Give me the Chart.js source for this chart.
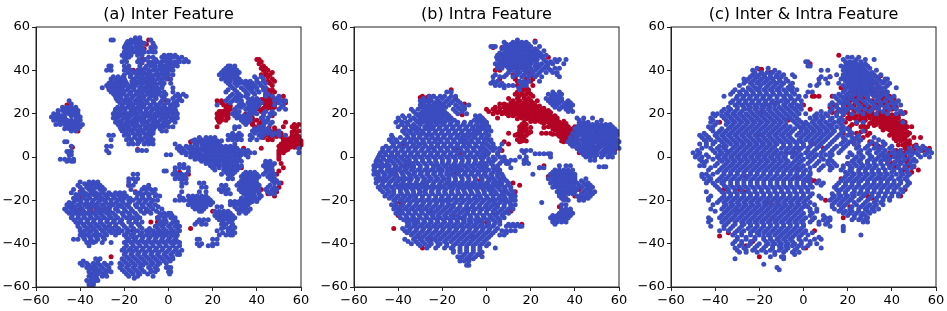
<!DOCTYPE html>
<html>
<head>
<meta charset="utf-8">
<script src="https://cdn.jsdelivr.net/npm/chart.js@4/dist/chart.umd.min.js"></script>
<style>
  html, body { margin: 0; padding: 0; background: #fff; }
  body { position: relative; width: 947px; height: 311px; overflow: hidden; }
  .panel { position: absolute; top: 0; width: 315px; height: 311px; }
</style>
</head>
<body>
<div class="panel" style="left:0"><canvas id="chartA"></canvas></div>
<div class="panel" style="left:317.5px"><canvas id="chartB"></canvas></div>
<div class="panel" style="left:635px"><canvas id="chartC"></canvas></div>
<script>
const titles = ['(a) Inter Feature', '(b) Intra Feature', '(c) Inter & Intra Feature'];
const tickValues = [-60, -40, -20, 0, 20, 40, 60];

// points, one row per y: [y, x, x, x ...]
const blueA = [
  [55,-15,-13],[54,-26,-25,-17,-14,-8],[52.5,-19,-17,-15,-13,-11,-7],[50.5,-20,-18,-16.5,-15,-13,-12,-8,-6],[48.5,-20,-18,-16,-14.5,-13,-11,-9,-7,-6],
  [47,-21,-19,-17,-14,-12,-2,0,1,3],[46,-20,-18,-9,-7,-3,-1,2,4,6],[44,-21,-19,-14,-12,-9,-7,-5,-3,-1,1,3,5,7,9],[42,-27,-26,-20,-18,-13,-10,-8,-6,-4,-2,0,2,4],
  [40,-28,-26,-20,-17,-14,-12,-9,-7,-5,-3,-1,1,2],[38,-20,-17,-14,-12,-10,-8,-6,-4,-2,0,2],[36,-26,-24,-22,-20,-16,-13,-11,-9,-7,-5,-3,-1,1],
  [34,-27,-25,-23,-21,-19,-16,-14,-12,-10,-8,-6,-4,-2,1],[32,-30,-27,-25,-23,-21,-18,-16,-13,-11,-9,-7,-5,-3,2],[30,-26,-24,-22,-20,-17,-14,-12,-10,-8,-6,-4,-2,2],
  [28,-24,-22,-19,-16,-13,-11,-8,-6,-3,-2,3,5,8],[26,-23,-20,-18,-15,-13,-10,-7,-3,0,4,6],[24,-21,-18,-16,-13,-11,-8,-5,-2,1,4],[22,-24,-22,-20,-17,-15,-13,-10,-7,-5,-3,-1,1,3],
  [20,-25,-23,-21,-18,-16,-14,-11,-9,-6,-4,-2,0,2,4],[18,-25,-23,-20,-18,-15,-13,-11,-8,-6,-3,-1,1,3,4],[16,-24,-22,-19,-17,-15,-12,-10,-7,-5,-2,0,3],[14,-22,-20,-18,-15,-13,-10,-8,-6,-4,-2,0,2],
  [12,-21,-19,-17,-14,-12,-9,-7,-3,-1],[10,-27,-25,-20,-18,-15,-13,-10,-8],[8,-26,-19,-17,-14,-12,-9,-7],[6,-18,-16,-14,-11,-9,-7],[5,-28,-26],[3,-28,-14,-12,-10],[2,-27],
  // left islands
  [26,-45],[24.5,-44],[23,-48,-46,-44,-42],[21.5,-50,-48,-46,-44,-42,-41],[20,-52,-50,-47,-45,-43,-41],[18.5,-53,-51,-49,-47,-42,-40],[17,-52,-50,-48,-46,-44,-42,-40],[15,-51,-49,-47,-45,-43,-41,-39],[13,-47,-45,-43,-41],[12,-44,-42],
  [7,-47,-46],[5,-44],[2.5,-46,-45,-44],[1,-45,-44],[-1,-49,-47,-45,-43],[-2,-46,-44,-43],
  // lower left
  [-8,-16,-14],[-10,-18,-16,-14],[-11.5,-40,-36,-34,-32,-18,-15],[-13,-41,-37,-35,-33,-31,-18,-16,-9],[-15,-43,-39,-36,-34,-31,-29,-17,-12,-10,-8,-6],
  [-16.5,-44,-40,-38,-35,-33,-30,-27,-24,-22,-20,-15,-13,-10,-7],[-18,-41,-38,-36,-33,-31,-28,-25,-22,-19,-12,-9,-6,-4],[-20,-42,-40,-37,-34,-31,-29,-26,-23,-21,-18,-16,-13,-10,-7,-5],
  [-22,-46,-44,-41,-38,-36,-33,-30,-27,-25,-22,-19,-15,-12,-9,-6],[-24,-47,-44,-42,-39,-36,-33,-31,-28,-24,-20,-17,-13,-10,-7,-3],[-26,-45,-42,-40,-37,-34,-31,-28,-25,-21,-18,-15,-11,-8,-4,-2,0,1],
  [-28,-44,-41,-38,-35,-32,-29,-26,-23,-19,-16,-13,-5,-2,1,3],[-30,-42,-40,-37,-34,-31,-28,-25,-22,-18,-15,-12,-3,-1,2,4],[-32,-41,-38,-35,-32,-29,-27,-24,-20,-17,-13,-6,-3,0,3,5],
  [-34,-40,-38,-35,-33,-30,-27,-24,-21,-18,-14,-10,-7,-4,-1,2,5],[-36,-40,-37,-34,-31,-28,-24,-20,-17,-13,-10,-7,-4,-1,2,4],[-38,-43,-41,-38,-35,-32,-29,-18,-15,-12,-9,-6,-3,0,3],
  [-39.5,-37,-34,-30,-26,-20,-17,-14,-11,-8,-5,-2,1,3,5],[-41,-36,-19,-16,-13,-10,-7,-4,-1,2,5],[-43,-21,-18,-15,-12,-9,-6,-3,0,3,6],[-45,-20,-17,-14,-11,-8,-5,-2,1,4,5],
  [-47,-33,-31,-21,-18,-15,-12,-9,-6,-3,0,2],[-49,-40,-37,-34,-32,-29,-26,-22,-19,-16,-13,-10,-7,-4,-1],[-51,-37,-35,-33,-30,-27,-22,-19,-16,-13,-9,-6,-1,0,1],[-53,-36,-33,-31,-28,-26,-20,-17,-14,-11,-8,-6,0,1],
  [-55,-36,-33,-30,-28,-18,-14,-7],[-57,-37,-35,-33,-32],[-59,-36,-35,-34],
  // small clusters in the middle
  [1,-1,1],[-3.5,5,7],[-5,3,5,7,9],[-6.5,-2,-1,3,9],[-8,2,4,6,8],[-10,3,5,6,8],[-12,6,8],[-13.5,6],
  [-12,14,16],[-14,15,17],[-16,6,14,17],[-18,5,9,11,13,15,17],[-20,3,5,7,9,11,13,15,17,19],[-22,9,11,13,15,17,19],[-24,12,14,16],[-25,14,15],
  [-23,22,24],[-25,21,23,25,27],[-27,21,23,25,27,29],[-29,14,16,18,23,25,27,29],[-31,12,15,17,24,26,29],[-32.5,25,28,30],[-34,22,27,29],[-36,23,26,28,29],[-38,13,14,20,22],[-40,13,15,20,22],[-41,14,18,20],
  // upper right
  [42,27,28,30],[40,25,27,29,31],[38,23,25,27,29,31],[36,24,26,28,30,32,40,43],[34,27,30,32,34,36,38,41,44],[32,29,33,36,38,40,44],[30,26,31,35,38,41,44],[28,28,31,33,35,44,47,50],[26,26,29,31,33,37,39,41,48,51,53],[24,22,32,34,37,39,41,48,52],[22,30,35,37,39,50,53],[20,29,31,36,38,40,43,46,48],[18,31,33,35,37,42,45],[16,34,36,44,47],[14,30,32,41,43],[12,38,40,42,44,46,50],[10,27,29,31,33,37,41,43,47,50,53],[8,27,29,31,33,37,40],
  // band down to the right
  [9,14,17,19,21],[7.5,11,14,16,18,20,22,24],[6,3,12,15,17,19,21,30],[4,4,6,9,11,13,15,17,19,21,23,25,27,29,31,59],[2,6,8,10,12,14,17,19,21,23,25,27,29,31,33,35,37,39,59],[0,10,12,14,16,18,20,22,24,26,28,30,32,36],
  [-2,15,17,19,21,23,25,27,29,31,33,44,46],[-4,19,21,23,25,27,29,31,33,43,45,47],[-6,21,25,27,29,31,45,47],[-8,24,27,29,34,36,38,40,43,46,48],[-10,27,29,34,36,38,40,46,48],[-12,32,34,36,38,40,48,50],[-13,24,26,31,33,35,37,39,41,46],[-15,23,25,27,32,34,36,38,40,44,47,49],[-17,26,28,34,36,38,41,46,48],[-19,33,35,37,39,41],[-20.5,28,30,32,34,36,38,40],[-22,28,30,32,34,36],[-24,31,33,35,37],[-26,32,35]
];
const blueA2 = [
  [53.3,-18.5,-15.8,-14.2,-12.6],[51.4,-19.6,-17.7,-14.3,-12.5,-6.5],[49.4,-19.2,-16.6,-13.6,-11.5,-7.7],[45,-19.5,-13.3,-10.8,-5.8,-1.7,0.6,4.7,7.8],[43,-12.7,-8.5,-6.5,-3.6,-0.5,1.5,3.6],[41,-26.8,-18.6,-12.8,-10.6,-6.2,-3.8,-1.6,0.6],[39,-18.3,-15.4,-13,-10.9,-8.6,-5.2,-2.8,-0.5],[37,-25,-22.8,-20.6,-17.3,-14.5,-12.1,-9.7,-7.6,-4.4,-1.8],[35,-26,-23.8,-21.6,-19.5,-16.6,-14.8,-12.9,-10.8,-8.7,-6.6,-3.1],[33,-28,-25.8,-23.7,-21.8,-19.6,-17.2,-14.9,-12.4,-9.8,-7.8,-5.8,-2.8],[31,-26.9,-24.7,-22.6,-20.8,-18.6,-15.5,-13,-10.7,-8.7,-6.6,-4.8],[29,-24.8,-22.6,-20.5,-17.8,-14.8,-12.2,-9.6,-7.2,-4.7,-1.2,4.2,6.7],[27,-23.7,-21.4,-19,-16.8,-14,-11.6,-8.7,-5.6,-2,2,5],[25,-22,-19.6,-17,-14.6,-12,-9.6,-6.5,-3.7,-0.6,2.4],[23,-23,-20.7,-18.6,-16.2,-14,-11.6,-8.6,-6,-3.9,-1.7,0.6,2.8],[21,-24.2,-22,-19.6,-17,-15,-12.6,-10.2,-7.8,-5,-2.9,-0.8,1.4,3.3],[19,-24,-21.8,-19.3,-16.9,-14.4,-12,-9.8,-7,-4.8,-2.4,-0.2,2.2],[17,-23.5,-21,-18.5,-16,-13.6,-11.2,-8.8,-6.4,-3.9,-1.2,1.4],[15,-22.8,-20.8,-18.8,-16.4,-14.2,-11.5,-9,-6.8,-4.9,-2.8,-0.8],[13,-21.6,-19.6,-17.6,-15.6,-13,-10.8,-8.6,-6.6,-3.8],[11,-19.2,-16,-13.8,-11,-9,-7],[9,-18,-15.4,-12.8,-10.6,-8.2],[7,-16.6,-13.2,-10,-8],
  [22,-47,-45,-43],[19,-51,-48.5,-44,-41.5],[16,-49,-47,-45,-43,-41],[14,-46,-44,-42,-40],
  [-12.3,-38,-35.6,-33],[-14,-40,-37,-35,-32.6,-30,-11,-9],[-17.3,-42,-39,-36.8,-34,-31.5,-28.7,-26,-23,-21,-14,-11.6,-8.7,-5.8],[-19,-43,-41,-38.6,-35.6,-32.7,-30,-27.5,-24.4,-22,-20,-17.4,-14.4,-11.5,-8.6],[-21,-45,-43,-39.6,-37,-34.6,-31.8,-28.4,-26,-23.6,-20.6,-17.6,-13.6,-10.8,-7.8],[-23,-45.4,-42.6,-40,-37,-34.7,-32,-29,-26.4,-23,-21,-18,-14.4,-11.4,-8,-4.7],[-25,-46,-43.4,-41,-38.4,-35.5,-32.4,-29.7,-26.5,-22.8,-19.4,-16.2,-12.4,-9,-5.4],[-27,-43.6,-40.8,-38.4,-35.6,-32.8,-30,-26.8,-24,-20.4,-17.4,-14.2,-3.4,-0.8,1.6],[-29,-42.8,-39.6,-36.4,-33.6,-30.6,-27.6,-24.4,-21.2,-17.6,-14.4,-4.2,-1.4,2.8],[-31,-41,-38.6,-35.8,-33,-30,-26.6,-23.8,-20.8,-16.8,-13.7,-4.4,-2,1,3.8],[-33,-40,-36.6,-33.8,-31,-28.5,-25.6,-22.6,-19,-15.8,-12,-8.6,-5,-2.2,1,4],[-35,-38.6,-36,-32.5,-29,-25.8,-22.4,-18.8,-15.6,-12,-8.8,-5.6,-2.6,0.5,3.4],[-37,-38.5,-35.6,-32.6,-29.6,-19,-16,-14.6,-11.6,-8.4,-5.5,-2.4,0.8,3.4],[-39,-35.6,-33,-19,-15.8,-12.8,-9.6,-6.5,-3.6,-0.8,2,4],[-42,-20,-17,-14.4,-11.4,-8.4,-5.4,-2.4,0.6,3.6],[-44,-19.4,-16.4,-13.4,-10.4,-7.4,-4.4,-1,2,4.6],[-46,-19,-16,-13,-10,-7,-4,-1,1.8],[-48,-38.6,-32,-20,-17,-14,-11,-8,-5,-2,0.8],[-50,-39,-36,-33.6,-31,-28,-21,-18,-15,-11.6,-8,-5],[-52,-36,-34,-31.6,-29,-27,-21,-18,-15,-12,-8,-5,0.6],[-54,-34.6,-32,-29.6,-19,-16,-13,-9.4,0.5],[-56,-34.8,-32.5,-15.5],[-58,-36,-34],
  [-9,3.4,5.4,7.4],[-19,6.6,10,12,14,16,18],[-21,10,12,14,16,18,20],[-23,11,13,15,17],[-26,22,24,26,28],[-28,22,24,26,28,30],[-30,13,15,24.5,27.5],[-33,24,27],[-35,24.5,27.5,30],
  [41,26,28,30],[39,24,26,28,30,32],[37,25,27,29,31,39,42],[35,26,28,31,33,35,37,40,43],[33,28,31,35,37,39,42],[31,27,30,34,37,40,43],[29,29,32,36,39,45],[27,27,30,32,36,38,40,49,50],[25,28,33,36,38,40,42,50],[23,31,33,36,38,40,51],[21,30,32,37,39,44,47],[19,30,32,34,36,43,46],[17,33,35,37,43,45],[15,35,43,46],[13,30,39,41,43,45],[11,29,32,39,42,45,48],[9,28,30,32,38,42],
  [8,12,15,18,20],[6.5,13,16,18,20,23],[5,5,8,10,13,16,18,20,22,24,26,28,30],[3,5,7,10,12,14,16,18,20,22,24,26,28,30,32,34,36],[1,8,11,13,15,17,19,21,23,25,27,29,31,33,35],[-1,12,14,16,18,20,22,24,26,28,30,32],[-3,17,19,21,23,25,27,29,31,44,46,48],[-5,20,23,26,28,30,32,44,46],[-7,26,28,30,35,37,39,44,47],[-9,28,33,35,37,39,41,45,47],[-11,33,35,37,39,47,49],[-14,25,33,35,37,39,41,45,48],[-16,24,26,33,35,37,39,41,45,47],[-18,35,37,39,42],[-21,29,31,33,35,37],[-23,30,33,35],[-25,32,34,36]
];
const redA = [
  [54,-9],[52,-10],[50,-11],[45,-11,-12],[43.5,-12],[40,-16],[36,0],[32,-27],[26,-1],[24,-46],[20,-20],[19,-8],[14.5,-22],[12,-41],[4.5,-43.5],[3.5,-14],
  [-8,9],[-7,5],[-10,6.5],[-13,-18],[-16,-40,-15],[-19,-40],[-24,-40,-29],[-25,-35,-10,20],[-28,-5,24],[-30,-8,-5],[-33,10],[-34,-16],[-40,-36],[-46,-26],
  [45,40,41],[44,42],[42,43],[40,43,45],[38,42,44,46],[36,47],[34,46],[32,43],[30,46,48],[28,44,47,52],[26,22,24,43,44,45,46,47,52],[25,24,43,45,47,53],[24,25,27],[23,44,46,48],[22,26,28,41],[20,22,25,27,35,38],[18,22,24,27,38],[16,23,38,42,53],[14,22,39,41,52,56,58],[12,44,46,49,57,59],[10,44,46,48,50,56,58],[8,45,47,52,56,58],[7,10,53,55,57,59],[6,51,53,55,57,59],[5,50,52,55,58],[4,34,42,51,59],[3,12,50],[2,31],[1,50],[-1,50],[-5,33,52],[-8,49],[-13,40],[-14,50],[-15,42,48],[-18,48],[-21,30]
];
const redA2 = [
  [27,43.5,45.5,47.5],[24,44,46,48],[25.5,42,48],[21,42,23,24],[19,24,26,47],[17,22.5,26],[15,57,59],[13.5,45.5,48,57],[11.5,45,47,49,56,58],[9.5,46,49,51,57,59],[7.5,54,56,58,60],[5.5,53,56,58,60],[3.5,52,54],[2,50,52],[0,50],
  [29,44,46],[28.5,45],[26.5,42,49],[25,41,44,46,48,50],[22.5,43,45,47],[21,25,27],[19.5,23,27],[23.5,26,28],[17,24,38,40],[15,38,41],[33,47],[31,45,47],[35,45,48],[37,45],[39,44,47],[41,42,44],[43,41],[11,44,47,51],[9,43,47,52],[8.5,53,55,57,59],[6.5,52,54,56,58,60],[4.5,53,55,57,59],[3,51,53],[-3,51],[-6.5,50],[-12,51],[-16,45,49],[-17,45]
];
const blueB = [
  [54,14],[53,8,12,14,16,18,22],[51,2,3,4,8,10,12,14,16,18,20,24],[49,9,11,13,15,17,19,21,23,26],[47,5,7,9,11,13,15,17,19,21,23,25,27],[45,5,7,9,11,13,15,17,19,21,23,26,31,33,36],[43,4,6,8,10,12,14,16,18,20,23,25,28,30,35],[41,5,7,10,12,14,16,18,20,23,26,28,31,33],[39,10,13,15,18,21,24,27,30,32],[37,3,6,8,12,16,19,22,25,33],[35,3,5,15,17,19,24],[33,4,6,8,10,12,16,18],[31,15],
  [30,30,33,-18,-16],[29,28,31,34],[27,27,29,31,33,34],[25,29,31,33,36,38],[23,31,34,36,38],[21,37,39],
  [18,41,44,48],[17,42,52],[16,42,44,46,50],[14,41,43,45,47,49,51,53,55,57],[12,41,43,45,47,49,51,53,55,57,59],[10,40,42,44,46,48,50,52,54,56,58,59],[8,38,40,43,45,47,49,51,53,55,57,59],[6,38,40,42,44,46,48,51,53,55,57,59],[4,41,43,45,47,49,51,54,56,58,60],[2,43,45,47,49,52,54,56,58],[0,45,47,49,52,55,57],[-1.5,47,49],[-4.5,51,53,54],
  [3,16,18,20],[2,17],[1.5,22,24,26,28,29],[0,15,18,29],[-1.5,11,13,17,18],[-3,9,10,17,19],[-5,11],[-8,21],
  [-4,33,36,38],[-5,24,26],[-6,31,33,35,37,39],[-8,29,31,33,35,37,39,40],[-10,28,30,32,34,36,38,40,45],[-12,29,31,33,35,37,39,41,44,46],[-14,30,32,34,36,38,40,43,46,48],[-16,32,34,36,38,40,44,47,49],[-18,33,35,41,43,45,47],[-20,35,37,42,44],[-21,25],[-22,34,36],[-24,34,36,38],[-26,33,35,37,39],[-28,29,31,33,35,37],[-30,30,32,34,36],[-31,31],
  // big blob
  [28,-26,-24,-21,-19,-16,-14],[26,-30,-27,-25,-22,-18,-15,-13],[24,-30,-28,-26,-24,-22,-20,-17,-14,-11,-8],[22,-34,-31,-28,-26,-24,-22,-20,-15,-12,-10],[20,-32,-30,-28,-26,-24,-22,-20,-18,-13,-9],[18,-40,-37,-33,-30,-28,-26,-24,-22,-20,-18,-16,-4,-2],[16,-41,-38,-36,-31,-29,-27,-25,-23,-21,-19,-16,-13,-10,-7,-4,-2,0],[14,-40,-37,-34,-32,-28,-26,-24,-21,-18,-15,-12,-9,-6,-3,-1,1],[12,-38,-35,-32,-29,-26,-23,-20,-17,-14,-11,-8,-5,-3,0,2],[10,-43,-36,-33,-30,-27,-25,-22,-19,-16,-13,-10,-7,-5,-2,1],[8,-44,-41,-37,-34,-32,-29,-26,-23,-21,-18,-15,-12,-10,-7,-4,-1,1,2],[6,-42,-39,-36,-33,-30,-28,-25,-22,-19,-16,-13,-10,-8,-5,-2,0,3,7],[4,-47,-44,-41,-38,-35,-32,-29,-26,-24,-21,-18,-15,-12,-9,-6,-3,-1,2,4,6],
  [2,-48,-46,-43,-40,-37,-34,-31,-28,-25,-22,-19,-16,-13,-10,-7,-4,-1,1,5],[0,-49,-47,-44,-42,-39,-36,-33,-30,-27,-24,-21,-18,-15,-12,-9,-6,-3,-1,3,6,8],[-2,-50,-48,-45,-43,-40,-37,-35,-32,-29,-26,-23,-20,-17,-14,-11,-8,-5,-2,1,3,7,9],[-4,-51,-49,-46,-44,-41,-38,-35,-33,-30,-27,-24,-22,-19,-16,-13,-10,-7,-4,-2,0,3,5],[-6,-51,-48,-45,-43,-40,-37,-34,-31,-28,-25,-22,-20,-17,-14,-11,-8,-5,-2,1,4,6],[-8,-51,-49,-46,-43,-41,-38,-35,-33,-30,-27,-24,-21,-18,-16,-13,-10,-7,-4,-1,2,5,7],[-10,-50,-48,-45,-42,-39,-36,-34,-31,-28,-25,-22,-19,-17,-14,-11,-8,-5,-2,1,3,6,8],[-12,-50,-47,-44,-41,-38,-35,-32,-29,-27,-24,-21,-18,-15,-12,-9,-6,-3,0,3,5,7,10],
  [-14,-49,-46,-43,-40,-38,-35,-32,-29,-26,-23,-20,-17,-15,-12,-9,-6,-3,0,2,5,8,11],[-16,-47,-44,-42,-39,-36,-33,-30,-28,-25,-22,-19,-16,-13,-10,-7,-4,-1,2,4,7,9,12],[-18,-46,-43,-40,-37,-34,-32,-29,-26,-23,-20,-17,-14,-11,-8,-5,-3,0,3,6,8,11,13],[-20,-42,-39,-36,-33,-30,-27,-24,-21,-19,-16,-13,-10,-7,-4,-1,2,4,7,9,12,13],[-22,-43,-41,-38,-35,-32,-29,-26,-23,-20,-17,-15,-12,-9,-6,-3,0,3,5,8,11,13],[-24,-42,-40,-37,-34,-31,-28,-25,-22,-19,-16,-13,-10,-8,-5,-2,1,4,7,10,12],[-26,-41,-38,-35,-32,-29,-26,-24,-21,-18,-15,-12,-9,-6,-3,0,3,5,8,10],[-28,-39,-36,-33,-30,-27,-24,-21,-18,-15,-12,-10,-7,-4,-1,2,5,8],[-30,-36,-33,-31,-28,-25,-22,-19,-16,-13,-10,-7,-4,-2,1,4,6],[-32,-36,-33,-30,-27,-24,-21,-18,-15,-12,-9,-6,-3,0,3,9,11,13,15,16],
  [-34,-37,-35,-32,-29,-26,-23,-20,-17,-14,-11,-8,-5,-2,1,4,7,9,11,13],[-36,-34,-31,-28,-25,-22,-19,-16,-13,-10,-7,-4,-1,2,6,8],[-38,-37,-33,-30,-27,-24,-21,-18,-15,-12,-9,-6,-3,0],[-40,-34,-31,-28,-25,-21,-18,-14,-11,-8,-5,-2,1],[-42,-27,-23,-19,-16,-12,-9,-6,-3,4],[-44,-15,-12,-9,-6,-2],[-46,-13,-11,-8,-5,-2],[-48,-12,-10,-8],[-50,-9,-8]
];
const blueB2 = [
  [52,9,11,13,15,17,19],[50,7,9,11,13,15,17,19,22],[48,6,8,10,12,14,16,18,20,22,24],[46,4.6,6.6,8.4,10.4,12.4,14.6,16.4,18.6,20.6,22.6,25],[44,6,8,10,12,14,16,18,20,22,27,29,32],[42,5,7,9,11,13,15,17,19,22,24,27],[40,11,14,17,20,22,25,29],[38,4,9,14,17,20,23,32],[34,2,4,7,16,18],[32,8,14.6],
  [28,29.6,32.6],[26,28,30,32,34,37],[24,30,32,35,37,39],[22,33,36,38],
  [15,42,44,46,48,50,52,54,56],[13,40,42,44,46,48,50,52,54,56,58],[11,39,41,43,45,47,49,51,53,55,57,59],[9,38,41,44,46,48,50,52,54,56,58],[7,37,39,41,44,46,48,50,52,54,56,58,60],[5,39,42,44,46,48,50,52,55,57,59],[3,42,44,46,48,50,53,55,57],[1,44,46,48,50,53,56],
  [-7,30,32,34,36,38],[-9,30,32,34,36,38,40],[-11,30,32,34,36,38,40,43],[-13,31,33,35,37,39,42,45,47],[-15,33,35,37,39,41,45,47],[-17,33,35,37,39,43,46,48],[-19,34,36,42,44,46],[-25,34,36,38],[-27,30,32,34,36,38],[-29,30,32,34,36],
  [27,-28.5,-25.5,-22.5,-20,-17],[25,-28.5,-26,-23.5,-21,-19,-16,-12],[23,-29.5,-27,-25,-23,-21,-18.5,-13,-10],[21,-33,-29,-27,-25,-23,-21,-19,-14,-11],[19,-38,-35,-31,-29,-27,-25,-23,-21,-19,-17,-5,-3],[17,-39.5,-34.5,-32,-30,-28,-26,-24,-22,-20,-17.5,-14.5,-5.5,-3,-1],[15,-38.5,-35.5,-33,-30,-27,-25,-22.5,-19.5,-16.5,-13.5,-10.5,-7.5,-4.5,-2,0],[13,-36.5,-33.5,-30.5,-27.5,-24.5,-21.5,-18.5,-15.5,-12.5,-9.5,-6.5,-4,-1.5,1],[11,-37,-34,-31,-28.5,-26,-23.5,-20.5,-17.5,-14.5,-11.5,-8.5,-6,-3.5,-0.5],[9,-42.5,-39,-35.5,-33,-30.5,-27.5,-24.5,-22,-19.5,-16.5,-13.5,-11,-8.5,-5.5,-2.5,0],[7,-43,-40.5,-37.5,-34.5,-31.5,-28.5,-26,-23.5,-20.5,-17.5,-14.5,-11.5,-9,-6.5,-3.5,-1,2],[5,-45.5,-42.5,-39.5,-36.5,-33.5,-31,-27.5,-25,-22.5,-19.5,-16.5,-13.5,-10.5,-7.5,-4.5,-2,1,3],
  [3,-47,-44.5,-41.5,-38.5,-35.5,-32.5,-29.5,-26.5,-23.5,-20.5,-17.5,-14.5,-11.5,-8.5,-5.5,-2.5,0,3,6],[1,-48.5,-45.5,-43,-40.5,-37.5,-34.5,-31.5,-28.5,-25.5,-22.5,-19.5,-16.5,-13.5,-10.5,-7.5,-4.5,-2,0.5,5],[-1,-49.5,-46.5,-44,-41,-38,-35,-32,-29,-26,-23,-20,-17,-14,-11,-8,-5,-2,1,4,8],[-3,-50,-47.5,-45,-42,-39,-36,-33.5,-31,-28,-25,-22.5,-20,-17.5,-14.5,-11.5,-8.5,-5.5,-3,-0.5,2,6],[-5,-50.5,-47.5,-44.5,-41.5,-39,-36,-33,-30,-27,-24,-21,-18,-15,-12,-9,-6,-3,-0.5,3,5],[-7,-49.5,-47,-44,-41.5,-38.5,-36,-32.5,-29.5,-26.5,-23.5,-20.5,-18,-15.5,-12.5,-9.5,-6.5,-3.5,-0.5,3,6],[-9,-49,-46.5,-44,-40.5,-37.5,-34.5,-32,-29,-26,-23,-20,-17,-14.5,-11.5,-8.5,-5.5,-2.5,0,2.5,5,7.5],[-11,-49,-46,-43,-40,-37.5,-34.5,-31.5,-28.5,-26,-23,-20,-17,-14,-11,-8,-5,-2,1,4,6.5,9],
  [-13,-47.5,-44.5,-41.5,-39,-36.5,-33.5,-30.5,-27.5,-24.5,-21.5,-19,-16.5,-13.5,-10.5,-7.5,-4.5,-1.5,1,3.5,6.5,9.5],[-15,-48,-45,-42,-39,-36.5,-33.5,-30.5,-27.5,-24.5,-21.5,-18.5,-15.5,-13,-10.5,-7.5,-4.5,-1.5,1,3,6,8.5,11],[-17,-45,-42,-38.5,-35.5,-33,-30.5,-27.5,-24.5,-21.5,-18.5,-15.5,-12.5,-9.5,-6.5,-3.5,-1,2,4.5,7.5,10,12],[-19,-44,-41,-38,-35,-32,-29,-26,-23,-20.5,-17.5,-14.5,-11.5,-8.5,-5.5,-2.5,0.5,3,5.5,8.5,11],[-21,-41,-37.5,-34.5,-31.5,-28.5,-25.5,-22.5,-20,-17.5,-14,-11,-8,-5,-2,1,3.5,6,8.5,10.5],[-23,-41.5,-39,-36,-33,-30,-27,-24,-21,-18,-15,-12,-9,-6.5,-3.5,-0.5,2,5,8,11],[-25,-40,-38.5,-35.5,-32.5,-29.5,-26.5,-23,-20,-17,-14,-11,-8.5,-6,-3,0,3,6,9],[-27,-39.5,-36.5,-33.5,-30.5,-27.5,-24.5,-22,-19,-16,-13,-10,-7.5,-4.5,-1.5,1.5,4,7],[-29,-37.5,-34.5,-31.5,-28.5,-25.5,-22.5,-19.5,-16.5,-13.5,-10.5,-8,-5,-2.5,0.5,3,6],[-31,-35,-32,-29,-26,-23,-20,-17,-14,-11,-8,-5,-2,1,3.5,6,10,12,14],[-33,-38,-34.5,-31.5,-28.5,-25.5,-22.5,-19.5,-16.5,-13.5,-10.5,-7.5,-4.5,-1.5,1.5,5],[-35,-36,-33,-30,-27,-24,-21,-18,-15,-12,-9,-6,-3,0,3,9],[-37,-32,-29,-26,-23,-20,-17,-14,-11,-8,-5,-2,1],[-39,-35.5,-32,-29,-26,-22.5,-19,-16,-13,-10,-7,-4,-1],[-41,-30,-26,-22,-18,-15,-12,-9,-6,-3,0],[-43,-15,-12,-9,-6,-3],[-45,-10,-7,-4],[-47,-12,-9,-6]
];
const redB = [
  [53.5,22],[50.5,3,7,13,18],[49,16,21],[47,11,24],[46,19,28],[44,15,17],[43,15,17,18],[42,16],[40,4,6],[39,19],[38,12,20],[37,13,21],[36,6,13,18,21],[35,14,20],[33,14,16,21],[31,15,17,19],[29,13,16,18,20],[27,10,14,17,19],[25,11,14,17,19,21],
  [23,4,8,11,13,15,18,23],[22,0,3,10,12,14,20,25],[21,1,6,8,10,13,17,19,21,24,26],[20,3,7,9,12,16,18,20,23,27],[19,10,17,19,22,24,26,29],[18,-2,5,19,21,25,28,30],[17,24,26,27,30,32],[16,17,25,28,29,33],[15,16,18,31,34],[13,16,18,30,32,35,39,41],[12,17,33,36,38],[11,10,15,19,25,27,29,33,35,42,45],[10,13,16,18,35,37,39],[9,16,34,37,48],[8,14,17,36,38,41,55],[7,8,15,35,37,49],[6,10,46,53],[5,51,47],[4,-13,41,44,49,54],[3,7,50,46,58],[2,-12,42],
  [28,-26,-24,-29],[27.5,-30,-27],[31,-16],[27,-14],[24.5,-10],[19.5,-11],[13,-37],[11,-29],[6,-38],[-1,-2],[-4,-37,-35],[-5,-16,-14,-13],[-7,-14],[-6,5],[-8,-42,-41],[-11,-47],[-11,-3],[-12,6,12],[-13,15],[-16,13],[-21,-39],[-23,-39,-30],[-24,-13],[-25,-25,11],[-27,-40,-15],[-30,0],[-31,16],[-33,-42],[-36.5,-31],[-37,-6],[-38,-25],[-42,-29],[-45,-3],[-47,-8],
  [-4,26],[-5,24],[-9,28,34],[-14,43],[-15,42],[-17,46],[-18,40],[-23,33]
];
const redB2 = [
  [32,15,18],[30,14,16,19],[28,14.6,17,21],[26,12,15,18,20,23],[24,9,12,14,16,19,22],[22.6,6,9,17],[21.6,15,22],[19.6,13,15,24,27],[17.6,14,18,23,29,31],[16.4,20,22,31],[14.6,29,33,36],[13.6,20,26,34,37],[12.4,15,31],[9.6,15,17,33,36,38],[8.6,39,35],[7.4,16,18,34],
  [24.5,6,8,13,18,20],[23.5,10,16,21,24],[22.5,12,15,19,22,26],[21.5,4,11,16,18,23,28],[20.5,5,10,14,21,25,29],[19,12,15,20,23,28,31],[18,16,23,27,32],[16.5,24,27,30,35],[15.5,26,29,32,36],[14,15,17,28,31,34,37,40],[12.5,18,32,34,37],[11.5,16,20,34,36,38,40],[10.5,14,30,32,36,38]
];
const blueC = [
  [46,20,22,25],[45,18,24,28,32],[44,1,2,19,21,23,26],[42,2,3,17,19,21,23,25,27,29],[41,-21,-16],[40,-23,-13,8,11,18,20,22,24,26,28,33],[38,-23,-20,-18,-15,-12,-9,-5,15,18,20,22,24,26,28,30,32,35],[36,-27,-25,-22,-19,-16,-14,-11,-8,7,10,17,19,21,23,25,27,29,31,34,37,38],[34,-27,-24,-21,-18,-15,-12,-9,-5,7,11,16,20,22,24,26,28,30,33,36,39],[32,-25,-22,-20,-17,-14,-11,-7,-5,19,21,23,25,27,29,31,33,35,37,42],
  [30,-32,-29,-26,-23,-20,-17,-14,-11,-8,-5,2,4,18,21,24,26,28,30,33,36,38],[28,-36,-30,-27,-24,-21,-18,-15,-12,-9,-6,-2,1,14,17,19,22,26,29,32,35,38,41],[26,-32,-29,-26,-23,-20,-17,-14,-10,-7,-4,-1,16,19,23,27,30,33,37,40,43],[24,-31,-28,-25,-22,-19,-16,-13,-9,-6,-3,-1,12,15,18,21,25,29,32,35,38,41,44],[22,-36,-33,-30,-27,-25,-22,-19,-16,-13,-10,-7,-4,-1,13,16,20,24,28,31,34,39,42],[20,-41,-39,-35,-32,-29,-26,-23,-20,-17,-14,-11,-8,-5,-2,1,6,10,15,18,22,27,33,38,42,45],[18,-42,-36,-33,-30,-27,-24,-21,-18,-15,-12,-9,-6,-3,3,6,9,13,17],[16,-42,-39,-34,-31,-28,-25,-22,-19,-16,-13,-10,-4,-1,1,4,7,10,14,16,24,27,45],
  [14,-43,-41,-33,-30,-27,-24,-21,-18,-15,-12,-9,-6,-2,0,3,6,9,12,15,18],[12,-41,-38,-35,-32,-29,-26,-23,-20,-17,-14,-11,-8,-5,-1,2,5,8,11,14,18,21,27],[10,-47,-44,-40,-37,-34,-31,-28,-25,-22,-19,-16,-13,-10,-7,-3,0,3,6,9,12,16,20,25],[8,-45,-42,-38,-35,-32,-29,-26,-23,-20,-17,-14,-11,-8,-5,-2,1,4,7,10,14,19,23,26,34],[6,-47,-44,-41,-36,-33,-30,-27,-24,-21,-18,-15,-12,-9,-6,-3,0,5,8,12,17,20,23,30,33,37],[4,-46,-42,-39,-36,-32,-29,-26,-23,-20,-17,-14,-10,-7,-4,-1,2,6,10,14,18,24,28,32,35,39,48,52,55],[2,-50,-47,-40,-37,-34,-31,-28,-25,-22,-19,-16,-13,-10,-6,-3,1,4,8,12,16,21,25,29,33,36,40,43,47,51,56,58],[0,-49,-46,-43,-39,-36,-33,-30,-27,-24,-21,-18,-15,-12,-9,-5,-2,2,5,8,12,20,24,27,31,34,37,41,44,48,53,57],
  [-2,-46,-44,-37,-34,-31,-28,-25,-22,-19,-16,-13,-10,-7,-4,-1,3,7,11,13,22,25,29,32,35,38,42,45,49,51],[-4,-47,-45,-40,-36,-33,-30,-27,-24,-21,-18,-15,-12,-9,-6,-3,0,5,9,12,15,18,21,24,27,30,33,36,40,43,46,50],[-6,-43,-38,-35,-32,-29,-26,-23,-20,-17,-14,-11,-8,-5,-2,1,7,12,17,21,25,28,31,34,37,41,44,47],[-8,-46,-44,-41,-36,-33,-30,-27,-24,-21,-18,-15,-12,-9,-6,-3,0,3,20,23,26,29,32,35,38,42,45,48],[-10,-45,-42,-38,-35,-32,-29,-26,-23,-20,-17,-14,-11,-8,-5,-2,1,3,18,21,24,27,30,33,36,39,43,46],[-12,-44,-41,-37,-33,-30,-27,-24,-21,-18,-15,-12,-9,-6,-3,0,3,6,9,16,19,22,25,29,32,35,38,41,44,48],
  [-14,-39,-35,-32,-29,-26,-23,-20,-17,-14,-11,-8,-5,-2,1,4,14,18,21,24,27,30,33,36,39,42,46],[-16,-44,-37,-34,-31,-28,-25,-22,-19,-16,-13,-10,-7,-4,-1,2,16,19,23,26,29,32,35,38,41,45],[-18,-42,-36,-33,-30,-27,-24,-21,-18,-15,-12,-9,-6,-3,0,3,7,14,17,20,23,27,31,34,37,40,43],[-20,-43,-38,-35,-32,-29,-26,-23,-20,-17,-14,-11,-8,-5,-2,1,12,15,18,21,25,29,33,36,39],[-22,-41,-35,-32,-29,-26,-23,-20,-17,-14,-11,-8,-5,-2,1,5,13,16,19,24,27,30,33,36],[-24,-42,-37,-34,-31,-28,-25,-22,-19,-16,-13,-10,-7,-4,-1,3,6,14,17,21,25,28,31,34],
  [-26,-36,-33,-30,-27,-24,-21,-18,-15,-12,-9,-6,-3,0,4,18,21,24,27,30],[-28,-43,-38,-35,-32,-29,-26,-23,-20,-17,-14,-11,-8,-5,-2,1,5,10,12,23,26,29],[-30,-43,-37,-34,-31,-28,-25,-22,-19,-16,-13,-10,-7,-4,-1,3,7,11,27,29],[-32,-42,-36,-32,-28,-24,-21,-18,-15,-12,-9,-6,-3,0,12,18],[-34,-38,-34,-30,-27,-23,-20,-17,-14,-11,-8,-5,-2,1,18],[-36,-32,-28,-24,-20,-16,-13,-10,-7,-4,-1,2,26],[-38,-30,-26,-22,-18,-15,-12,-9,-6,-2,1,5,8],[-40,-32,-28,-24,-20,-16,-13,-10,-7,-4,-1,3,6],[-42,-31,-27,-22,-18,-14,-10,-7,-3,0,8],[-44,-29,-26,-21,-17,-13,-9,-5,-2],[-46,-15,-10,-9],[-47,-31,-9],[-49.5,-18],[-51,-12],[-52,-11]
];
const blueC2 = [
  [43,20,22,24,26,28],[41,19,21,23,25,27,30],[39,-22,-19,-16.5,-14,-11,19,21,23,25,27,29,31],[37,-24,-21,-17.5,-15,-12.5,-10,-4,8,12,18,20,22,24,26,28,30,33],[35,-26,-23,-20,-17,-13.5,-10.5,-7,19,21,23,25,27,29,32,35,37],[33,-29,-23,-19.5,-16,-13,-10,-6,3,6,18,20,22,24,26,28,31,34,38],[31,-31,-27.5,-24,-21,-18,-15,-12,-9,-6,-3,19,22,25,27,29,32,35],[29,-33,-28.5,-25.5,-22.5,-19.5,-16.5,-13.5,-10.5,-7.5,-4,16,20,23,25,28,31,34,37],[27,-30.5,-27.5,-24.5,-21.5,-18.5,-15.5,-12,-8.5,-5.5,-2.5,15,18,21,25,29,34,39],[25,-33,-29.5,-26.5,-23.5,-20.5,-17.5,-14.5,-11.5,-8,-4.5,13,17,20,24,28,31,35,40,42],[23,-34,-30,-27,-24,-21,-18,-15,-11,-8,-5,-2,15,18,22,26,33,37,41],[21,-37,-34,-31,-28,-24,-21,-18,-15,-12,-9,-6,-3,8,12,17,19,25,30,36,44],
  [19,-40,-37,-34,-31,-28,-25,-22,-19,-16,-13,-10,-7,-4,5,8,11,15],[17,-41,-35,-32,-29,-26,-23,-20,-17,-14,-11,-8,-5,-2,5,8,12,16,18],[15,-40,-35,-32,-29,-26,-23,-20,-17,-14,-11,-8,-3,0,2,5,8,11,13,17],[13,-42,-37,-34,-31,-28,-25,-22,-19,-16,-13,-10,-7,-4,-1,1,4,7,10,13,17,20],[11,-45,-39,-36,-33,-30,-27,-24,-21,-18,-15,-12,-9,-6,-2,1,4,7,10,13,17,22],[9,-46,-43,-39,-36,-33,-30,-27,-24,-21,-18,-15,-12,-9,-6,-1,2,5,8,11,15,18,22,24,32],[7,-44,-40,-37,-34,-31,-28,-25,-22,-19,-16,-13,-10,-7,-4,-1,3,6,9,13,18,21,25,31,36],[5,-44,-38,-35,-31,-28,-25,-22,-19,-16,-13,-9,-6,-3,0,3,7,11,15,19,25,29,33,36,40,51,54],[3,-48,-41,-38,-35,-33,-30,-27,-24,-21,-18,-15,-12,-8,-5,-2,2,5,9,13,17,26,30,34,37,41,44,49,53,57],[1,-48,-44,-38,-35,-32,-29,-26,-23,-20,-17,-14,-11,-8,-4,-1,3,6,10,13,22,26,30,35,38,42,45,49,52,55],
  [-1,-47,-41,-38,-35,-32,-29,-26,-23,-20,-17,-14,-11,-8,-3,0,4,9,12,23,26,30,33,36,39,43,46,50],[-3,-45,-39,-35,-32,-29,-26,-23,-20,-17,-14,-11,-8,-5,-2,2,6,11,14,20,23,26,29,32,35,38,41,44,48],[-5,-42,-37,-34,-31,-28,-25,-22,-19,-16,-13,-10,-7,-4,-1,3,8,13,18,22,26,29,32,36,39,43,46,49],[-7,-39,-36,-33,-30,-27,-24,-21,-18,-15,-12,-9,-6,-3,0,3,19,22,25,28,31,34,37,40,44,47],[-9,-46,-43,-37,-34,-31,-28,-25,-22,-19,-16,-13,-10,-7,-4,-1,2,19,22,25,28,31,34,37,40,44,47],[-11,-43,-39,-36,-33,-30,-27,-24,-21,-18,-15,-12,-9,-6,-3,0,2,7,17,20,23,26,29,32,35,38,41,44,47],
  [-13,-40,-36,-33,-30,-27,-24,-21,-18,-15,-12,-9,-6,-3,0,3,8,15,19,22,25,28,31,34,37,40,43,47],[-15,-38,-34,-31,-28,-25,-22,-19,-16,-13,-10,-7,-4,-1,2,15,17,20,23,26,29,32,35,38,41,44],[-17,-36,-33,-30,-27,-24,-21,-18,-15,-12,-9,-6,-3,0,4,13,16,19,22,25,28,31,34,37,40,43],[-19,-43,-37,-34,-31,-28,-25,-22,-19,-16,-13,-10,-7,-4,-1,2,8,13,16,19,22,26,30,33,36,39],[-21,-39,-36,-33,-30,-27,-24,-21,-18,-15,-12,-9,-6,-3,0,3,14,17,20,23,28,32,35],[-23,-36,-33,-30,-27,-24,-21,-18,-15,-12,-9,-6,-3,0,2,13,18,22,26,29,32],[-25,-40,-35,-32,-29,-26,-23,-20,-17,-14,-11,-8,-5,-2,3,6,16,19,22,25,29,32],
  [-27,-37,-34,-31,-28,-25,-22,-19,-16,-13,-10,-7,-4,-1,3,9,20,23,26,28],[-29,-42,-36,-33,-30,-27,-24,-21,-18,-15,-12,-9,-6,-3,0,4,9,12,22,25,28],[-31,-35,-31,-27,-24,-21,-18,-15,-12,-9,-6,-3,0,7,10],[-33,-36,-33,-29,-25,-22,-19,-16,-13,-10,-7,-4,-1,18],[-35,-31,-28,-24,-21,-18,-15,-12,-9,-6,-3,0,4],[-37,-30,-26,-22,-18,-15,-11,-8,-5,-2,7],[-39,-31,-28,-24,-17,-14,-11,-8,-5,-1,3],[-41,-29,-25,-21,-17,-14,-11,-8,-5,-2,2],[-43,-30,-26,-23,-19,-15,-11,-8,-4],[-45,-13,-4]
];
const redC = [
  [47,16],[43,3],[40.5,-19,-20],[39,-15],[37,-21,12],[37.5,35,30],[38,24,21,28],[35,30,32],[33,23,29,31],[32,17,22],[31,24,30,32],[30,33],[28,4,5,7,13,24,32,36,39],[27,20,27,38],[26,21,36],[25,-12,19,26,33,37,41],[24,0,-18,14,38],[23,12,21,27,30,34,42],[22,3,20,29,40],[20.5,-19,13,15,20,28,31,36,46],[19,21,24,29,32,35,38,41],[18,20,23,26,30,33,37,39,43],[17,-7,25,28,34,36,38,40],[16,-38,19,31,35,37,39,41,44,46],[15,22,27,33,36,38,40,43],[14,21,26,29,35,37,39,41,47,49],[13,20,38,40,42,44],[12,28,41,43,45],[11,18,24,30,42,44,46,48],[10.5,-20,21],[10,29,41,44,47],[9,-43,27,43,45,50,53],[8,25,45],[7,22,30,47],[6,4,23,32,46,48],[5,-36,34,47,50],[4,-2,9,34,46,52,55,57],[3,54,56],[2,-13,-8,-4],[1,-20,-4,36,43,45],[0,38,46,42],[-3,20,41,40],[-2,29],[-4,39,48],[-5,-3,41],[-6,45,52],[-7,49],[-9,-26,-3],[-11,4,5],[-10,17,35],[-15,46,-36,-29],[-16,-27],[-18,44,29],[-19,31],[-20,10],[-21,-12,-16],[-22,-11],[-23,21],[-25,-30],[-28,-14,18],[-34,5],[-35,-34],[-36.5,-38],[-39,-23],[-41,-26],[-42,1],[-46,-20]
];
const redC2 = [
  [36,29,31],[34,22,25,31,33],[32,24,26,30,34],[30,22,25,29,31,35,37],[29,20,27,33],[27,23,25,29,34,36,41],[26,24,31,39],[24,20,23,28,33,36,40],[22.5,18,22,25,32,37,41],[21,23,26,30,34,38,44],[19.5,18,22,26,30,34,37,40,43],[18.5,28,36,42],[17.5,21,24,32,35,37,39,41],[16.5,27,33,36,38,40,42,45],[15.5,24,30,35,37,39,41,43],[14.5,32,36,38,40,42,44,46],[13.5,28,37,39,41,43,45],[12.5,36,39,42,44,46],[11.5,26,40,43,45,47],[10,39,42,45],[8.5,41,44,46],[7.5,42,44,48],[5.5,43,45,51],[3,42,44,47,50],[2,39,46,49],[0.5,40,44],[-1,37,43,47],[-2.5,41,44,47],[-4.5,42,46,50]
];

// plot area of each panel inside its own canvas
const plotBox = { left: 36, right: 14, top: 27, bottom: 24 };

function toPoints(rows) {
  const pts = [];
  rows.forEach(row => {
    row.slice(1).forEach(x => pts.push({ x: x, y: row[0] }));
  });
  return pts;
}

const frame = {
  id: 'frame',
  afterDraw(chart) {
    const a = chart.chartArea;
    const c = chart.ctx;
    c.save();
    c.strokeStyle = '#222';
    c.lineWidth = 1;
    c.strokeRect(a.left, a.top, a.right - a.left, a.bottom - a.top);
    c.restore();
  }
};

function axis(fitKey) {
  return {
    min: -60,
    max: 60,
    afterBuildTicks: s => { s.ticks = tickValues.map(v => ({ value: v })); },
    afterFit: s => {
      if (fitKey === 'height') s.height = plotBox.bottom;
      else s.width = plotBox.left;
    },
    grid: { drawOnChartArea: false, drawTicks: true, tickLength: 4, color: '#222' },
    border: { display: true, color: '#222' },
    ticks: {
      color: '#000',
      autoSkip: false,
      maxRotation: 0,
      padding: 2,
      font: { family: '"DejaVu Sans"', size: 13 },
      callback: v => String(v).replace('-', '\u2212')
    }
  };
}

function makeChart(id, title, blue, red) {
  new Chart(document.getElementById(id), {
    type: 'scatter',
    data: {
      datasets: [
        { data: toPoints(blue), backgroundColor: '#3b4cc0', pointRadius: 2.5, pointBorderWidth: 0 },
        { data: toPoints(red), backgroundColor: '#b40426', pointRadius: 2.5, pointBorderWidth: 0 }
      ]
    },
    options: {
      responsive: true,
      maintainAspectRatio: false,
      animation: false,
      clip: false,
      layout: { padding: { right: plotBox.right, top: plotBox.top, left: 0, bottom: 0 } },
      scales: { x: axis('height'), y: axis('width') },
      plugins: {
        legend: { display: false },
        tooltip: { enabled: false },
        title: { display: false }
      }
    },
    plugins: [frame, {
      id: 'panelTitle',
      afterDraw(chart) {
        const c = chart.ctx;
        const a = chart.chartArea;
        c.save();
        c.fillStyle = '#000';
        c.font = '16px "DejaVu Sans"';
        c.textAlign = 'center';
        c.textBaseline = 'alphabetic';
        c.fillText(title, (a.left + a.right) / 2, 19);
        c.restore();
      }
    }]
  });
}

makeChart('chartA', titles[0], blueA.concat(blueA2), redA.concat(redA2));
makeChart('chartB', titles[1], blueB.concat(blueB2), redB.concat(redB2));
makeChart('chartC', titles[2], blueC.concat(blueC2), redC.concat(redC2));
</script>
</body>
</html>
